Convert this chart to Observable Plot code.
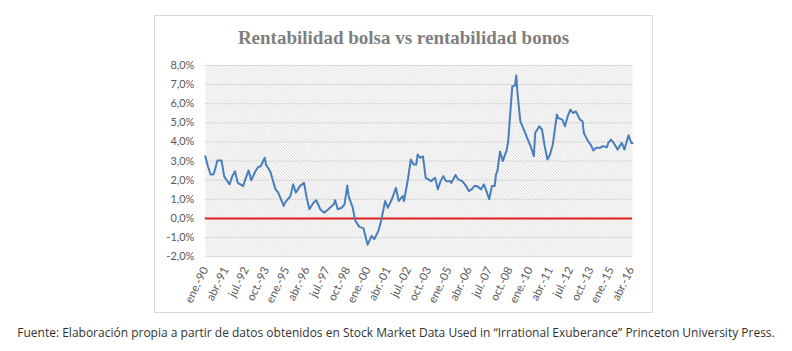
<!DOCTYPE html>
<html>
<head>
<meta charset="utf-8">
<script src="https://cdn.jsdelivr.net/npm/d3@7"></script>
<script src="https://cdn.jsdelivr.net/npm/@observablehq/plot@0.6"></script>
<style>
  html, body { margin: 0; padding: 0; background: #fff; }
  #page { position: relative; width: 792px; height: 351px; overflow: hidden; }
  #box { position: absolute; left: 154px; top: 15px; width: 499px; height: 298px; border: 1px solid #d9d9d9; box-sizing: border-box; }
  #title { position: absolute; left: 0; width: 100%; top: 11px; text-align: center; font-family: "Liberation Serif", serif; font-weight: bold; font-size: 19px; color: #7f7f7f; line-height: 22px; }
  #chart { position: absolute; left: -1px; top: 35px; }
  #caption { position: absolute; left: 0; width: 792px; top: 324px; text-align: center; font-family: "Open Sans", sans-serif; font-size: 12px; color: #333; white-space: nowrap; }
</style>
</head>
<body>
<div id="page">
  <div id="box">
    <div id="title">Rentabilidad bolsa vs rentabilidad bonos</div>
    <div id="chart"></div>
  </div>
  <div id="caption">Fuente: Elaboración propia a partir de datos obtenidos en Stock Market Data Used in “Irrational Exuberance” Princeton University Press.</div>
</div>
<script>
// Month of each reading (YYYY-MM) and spread value in percent
const months = [
  "1990-01","1990-03","1990-05","1990-07","1990-08","1990-10","1991-01","1991-03","1991-04","1991-07",
  "1991-09","1991-11","1992-01","1992-05","1992-07","1992-09","1992-11","1993-02","1993-04","1993-06",
  "1993-09","1993-10","1994-01","1994-05","1994-07","1994-11","1994-12","1995-04","1995-06","1995-08",
  "1995-11","1996-02","1996-04","1996-06","1996-09","1996-11","1997-02","1997-05","1997-08","1997-12",
  "1998-01","1998-03","1998-06","1998-08","1998-10","1998-11","1999-02","1999-04","1999-07","1999-10",
  "2000-01","2000-04","2000-06","2000-09","2000-11","2001-02","2001-04","2001-07","2001-10","2001-12",
  "2002-03","2002-04","2002-07","2002-09","2002-11","2003-01","2003-02","2003-04","2003-06","2003-08",
  "2003-10","2003-12","2004-03","2004-05","2004-07","2004-09","2004-11","2005-02","2005-03","2005-06",
  "2005-08","2005-11","2006-01","2006-04","2006-06","2006-08","2006-10","2007-01","2007-03","2007-05",
  "2007-07","2007-09","2007-11","2007-12","2008-01","2008-03","2008-05","2008-08","2008-09","2008-10",
  "2008-12","2009-02","2009-03","2009-04","2009-06","2009-09","2009-11","2010-02","2010-04","2010-05",
  "2010-08","2010-10","2010-12","2011-02","2011-04","2011-06","2011-09","2011-10","2012-01","2012-03",
  "2012-05","2012-07","2012-09","2012-11","2013-02","2013-04","2013-05","2013-08","2013-10","2013-12",
  "2014-02","2014-05","2014-07","2014-10","2014-11","2015-01","2015-03","2015-06","2015-09","2015-11",
  "2015-12","2016-02","2016-04","2016-05"
];
const values = [
  3.25,2.73,2.30,2.30,2.50,3.03,3.03,2.21,2.09,1.78,
  2.21,2.47,1.86,1.69,2.12,2.51,1.99,2.47,2.68,2.73,
  3.17,2.79,2.47,1.52,1.35,0.65,0.82,1.17,1.78,1.35,
  1.69,1.86,1.08,0.48,0.82,0.95,0.48,0.30,0.48,0.74,
  0.95,0.48,0.56,0.74,1.72,1.17,0.56,-0.13,-0.44,-0.51,
  -1.38,-0.91,-1.08,-0.65,-0.13,0.91,0.56,1.00,1.60,0.91,
  1.17,0.91,2.10,3.08,2.82,2.82,3.34,3.17,3.25,2.12,
  2.04,1.95,2.12,1.52,1.95,2.21,1.95,1.95,1.86,2.27,
  2.04,1.95,1.78,1.43,1.52,1.69,1.69,1.52,1.78,1.43,
  1.00,1.69,1.69,2.30,2.47,3.50,3.00,3.60,4.04,5.00,
  6.90,6.95,7.47,6.47,5.08,4.56,4.21,3.69,3.25,4.47,
  4.82,4.65,3.78,3.08,3.34,3.86,5.43,5.25,5.17,4.82,
  5.34,5.69,5.51,5.60,5.17,5.08,4.47,4.04,3.86,3.55,
  3.69,3.69,3.78,3.72,3.95,4.12,3.95,3.60,3.95,3.60,
  3.86,4.35,3.95,3.95
];
// X tick positions and their labels
const tickMonths = ["1990-01","1991-04","1992-07","1993-10","1995-01","1996-04","1997-07","1998-10",
  "2000-01","2001-04","2002-07","2003-10","2005-01","2006-04","2007-07","2008-10","2010-01","2011-04",
  "2012-07","2013-10","2015-01","2016-04"];
const tickLabels = ["ene.-90","abr.-91","jul.-92","oct.-93","ene.-95","abr.-96","jul.-97","oct.-98",
  "ene.-00","abr.-01","jul.-02","oct.-03","ene.-05","abr.-06","jul.-07","oct.-08","ene.-10","abr.-11",
  "jul.-12","oct.-13","ene.-15","abr.-16"];
const yTicks = [-2,-1,0,1,2,3,4,5,6,7,8];

const toDate = s => { const [y, m] = s.split("-").map(Number); return new Date(Date.UTC(y, m - 1, 1)); };
const data = months.map((m, i) => ({date: toDate(m), value: values[i]}));
const tickDates = tickMonths.map(toDate);
const labelOf = new Map(tickDates.map((d, i) => [+d, tickLabels[i]]));

const chart = Plot.plot({
  width: 500,
  height: 275,
  marginLeft: 51,
  marginRight: 20,
  marginTop: 14,
  marginBottom: 69,
  style: {fontFamily: "Lato, sans-serif", fontSize: "11px", color: "#595959", background: "transparent"},
  x: {type: "utc", domain: [toDate("1990-01"), toDate("2016-05")]},
  y: {domain: [-2, 8]},
  marks: [
    Plot.frame({fill: "url(#hatch)", stroke: "none"}),
    Plot.gridY(yTicks, {stroke: "#d9d9d9", strokeOpacity: 1}),
    Plot.ruleY([0], {stroke: "#e0211d", strokeWidth: 2}),
    Plot.line(data, {x: "date", y: "value", stroke: "#4a7ebb", strokeWidth: 2}),
    Plot.axisY(yTicks, {tickSize: 0, tickPadding: 11, tickFormat: d => d.toFixed(1).replace(".", ",") + "%", fill: "#595959", label: null}),
    Plot.axisX(tickDates, {tickSize: 0, tickPadding: 11, tickRotate: -64, fontSize: 11.5, tickFormat: d => labelOf.get(+d), fill: "#595959", label: null})
  ]
});

const ns = "http://www.w3.org/2000/svg";
const defs = document.createElementNS(ns, "defs");
const pat = document.createElementNS(ns, "pattern");
pat.setAttribute("id", "hatch");
pat.setAttribute("patternUnits", "userSpaceOnUse");
pat.setAttribute("width", "3");
pat.setAttribute("height", "3");
const bg = document.createElementNS(ns, "rect");
bg.setAttribute("width", "3"); bg.setAttribute("height", "3"); bg.setAttribute("fill", "#fbfbfb");
pat.appendChild(bg);
const p = document.createElementNS(ns, "path");
p.setAttribute("d", "M0,0L3,3M-1,2L1,4M2,-1L4,1");
p.setAttribute("stroke", "#d4d4d4");
p.setAttribute("stroke-width", "0.8");
pat.appendChild(p);
defs.appendChild(pat);
chart.insertBefore(defs, chart.firstChild);
document.getElementById("chart").appendChild(chart);
</script>
</body>
</html>
